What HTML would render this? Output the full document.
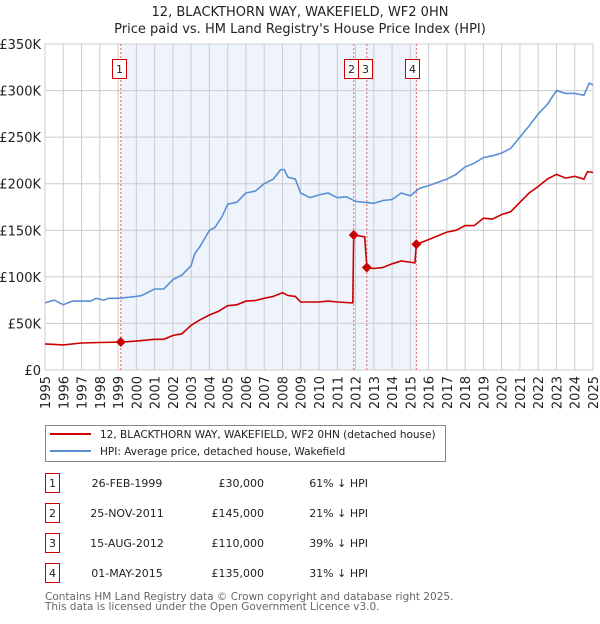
<!DOCTYPE html>
<html><head><meta charset="utf-8"><style>
body{margin:0;background:#fff;font-family:"DejaVu Sans","Liberation Sans",sans-serif;}
svg text{font-family:"DejaVu Sans","Liberation Sans",sans-serif;}
</style></head><body>
<svg id="c" width="600" height="620" viewBox="0 0 600 620" xmlns="http://www.w3.org/2000/svg">
<text x="300" y="16" text-anchor="middle" font-size="13" fill="#222">12, BLACKTHORN WAY, WAKEFIELD, WF2 0HN</text>
<text x="300" y="33" text-anchor="middle" font-size="13" fill="#222">Price paid vs. HM Land Registry's House Price Index (HPI)</text>
<g id="plot"></g>
<g>
<rect x="45.5" y="425.5" width="400" height="36" fill="#fff" stroke="#888"/>
<line x1="50" y1="434" x2="91" y2="434" stroke="#cc0000" stroke-width="2"/>
<text x="100" y="438" font-size="10.5" fill="#222">12, BLACKTHORN WAY, WAKEFIELD, WF2 0HN (detached house)</text>
<line x1="50" y1="451" x2="91" y2="451" stroke="#5b8fd4" stroke-width="2"/>
<text x="100" y="455" font-size="10.5" fill="#222">HPI: Average price, detached house, Wakefield</text>
</g>
<g id="tbl"></g>
<text x="45" y="600" font-size="10.5" fill="#666">Contains HM Land Registry data © Crown copyright and database right 2025.</text>
<text x="45" y="610" font-size="10.5" fill="#666">This data is licensed under the Open Government Licence v3.0.</text>
</svg>
<script>
const yTicks=[0,50000,100000,150000,200000,250000,300000,350000];
const yTickLabels=["£0","£50K","£100K","£150K","£200K","£250K","£300K","£350K"];
const years=[1995,1996,1997,1998,1999,2000,2001,2002,2003,2004,2005,2006,2007,2008,2009,2010,2011,2012,2013,2014,2015,2016,2017,2018,2019,2020,2021,2022,2023,2024,2025];
const hpiT=[1995,1995.5,1996,1996.5,1997.5,1997.8,1998.2,1998.5,1999,2000,2000.3,2001,2001.5,2002,2002.5,2003,2003.2,2003.5,2004,2004.3,2004.7,2005,2005.5,2006,2006.5,2007,2007.5,2007.9,2008.1,2008.3,2008.7,2009,2009.5,2010,2010.5,2011,2011.5,2012,2012.5,2013,2013.5,2014,2014.5,2015,2015.5,2016,2017,2017.5,2018,2018.5,2019,2019.5,2020,2020.5,2021,2021.5,2022,2022.5,2023,2023.5,2024,2024.5,2024.8,2025];
const hpiV=[72,75,70,74,74,77,75,77,77,79,80,87,87,97,102,112,125,133,150,153,165,178,180,190,192,200,205,215,215,207,205,190,185,188,190,185,186,181,180,179,182,183,190,187,195,198,205,210,218,222,228,230,233,238,250,262,275,285,300,297,297,295,308,306];
const ppT=[1995,1996,1997,1998,1999.15,2000,2001,2001.5,2002,2002.5,2003,2003.5,2004,2004.5,2005,2005.5,2006,2006.5,2007,2007.5,2008,2008.3,2008.7,2009,2010,2010.5,2011,2011.85,2011.9,2012.5,2012.62,2013,2013.5,2014,2014.5,2015.25,2015.33,2016,2016.5,2017,2017.5,2018,2018.5,2019,2019.5,2020,2020.5,2021,2021.5,2022,2022.5,2023,2023.5,2024,2024.5,2024.7,2025];
const ppV=[28,27,29,29.5,30,31,33,33,37,39,48,54,59,63,69,70,74,74.5,77,79,83,80,79,73,73,74,73,72,145,143,110,109,110,114,117,115,135,140,144,148,150,155,155,163,162,167,170,180,190,197,205,210,206,208,205,213,212];
const saleT=[1999.15,2011.9,2012.62,2015.33];
const saleV=[30,145,110,135];
const saleLabels=["1","2","3","4"];
const saleDates=["26-FEB-1999","25-NOV-2011","15-AUG-2012","01-MAY-2015"];
const salePrices=["£30,000","£145,000","£110,000","£135,000"];
const saleHpi=["61% ↓ HPI","21% ↓ HPI","39% ↓ HPI","31% ↓ HPI"];
const NS="http://www.w3.org/2000/svg";
const X0=45,X1=593,Y0=370,Y1=44;
const x=t=>X0+(t-1995)/30*(X1-X0);
const y=v=>Y0-v/350000*(Y0-Y1);
const g=document.getElementById('plot');
function mk(tag,attrs,parent){const e=document.createElementNS(NS,tag);for(const k in attrs)e.setAttribute(k,attrs[k]);(parent||g).appendChild(e);return e;}
let e=mk('rect',{x:x(saleT[0]),y:Y1,width:x(saleT[3])-x(saleT[0]),height:Y0-Y1,fill:'#eef3fc'});


yTicks.forEach((v,i)=>{
 let l=mk('line',{x1:X0,x2:X1,y1:y(v),y2:y(v),stroke:'#cccccc'});
 
 
 let t=mk('text',{x:X0-4,y:y(v)+5,'text-anchor':'end','font-size':'13',fill:'#222'});
 t.textContent=yTickLabels[i];
 
 
});
years.forEach(yr=>{
 let l=mk('line',{x1:x(yr),x2:x(yr),y1:Y1,y2:Y0,stroke:'#cccccc'});
 
 
 let t=mk('text',{x:0,y:0,'text-anchor':'end','font-size':'13',fill:'#222',transform:`translate(${x(yr)+5},376) rotate(-90)`});
 t.textContent=yr;
 
 
});
let b=mk('rect',{x:X0,y:Y1,width:X1-X0,height:Y0-Y1,fill:'none',stroke:'#cccccc'});


saleT.forEach((t,i)=>{
 let l=mk('line',{x1:x(t),x2:x(t),y1:Y1,y2:Y0,stroke:'#e06666','stroke-dasharray':'2,2'});
 
 
});
function path(T,V,col,name){let d=T.map((t,i)=>(i?'L':'M')+x(t).toFixed(1)+','+y(V[i]*1000).toFixed(1)).join('');let p=mk('path',{d:d,fill:'none',stroke:col,'stroke-width':'1.6'});
 
 }
path(hpiT,hpiV,'#5b8fd4','hpi-line');
path(ppT,ppV,'#cc0000','price-paid-line');
saleT.forEach((t,i)=>{
 let cx=x(t),cy=y(saleV[i]*1000);
 let p=mk('path',{d:`M${cx},${cy-5}L${cx+5},${cy}L${cx},${cy+5}L${cx-5},${cy}Z`,fill:'#cc0000'});
 
 
 let bx=[112,344,358,405][i];
 let r=mk('rect',{x:bx+0.5,y:59.5,width:14,height:19,fill:'#fff',stroke:'#cc0000'});
 
 
 let tx=mk('text',{x:bx+7.5,y:73,'text-anchor':'middle','font-size':'11',fill:'#222'});
 tx.textContent=saleLabels[i];
 
 
});
const tg=document.getElementById('tbl');
saleT.forEach((t,i)=>{
 const yy=483+30*i;
 let r=mk('rect',{x:45.5,y:yy-9.5,width:14,height:19,fill:'#fff',stroke:'#cc0000'},tg);
 
 
 const cells=[[52.5,saleLabels[i],'middle'],[127,saleDates[i],'middle'],[264,salePrices[i],'end'],[368,saleHpi[i],'end']];
 cells.forEach(c=>{let tx=mk('text',{x:c[0],y:yy+4,'text-anchor':c[2],'font-size':'11',fill:'#222'},tg);tx.textContent=c[1];
 
 });
});
</script>
</body></html>
